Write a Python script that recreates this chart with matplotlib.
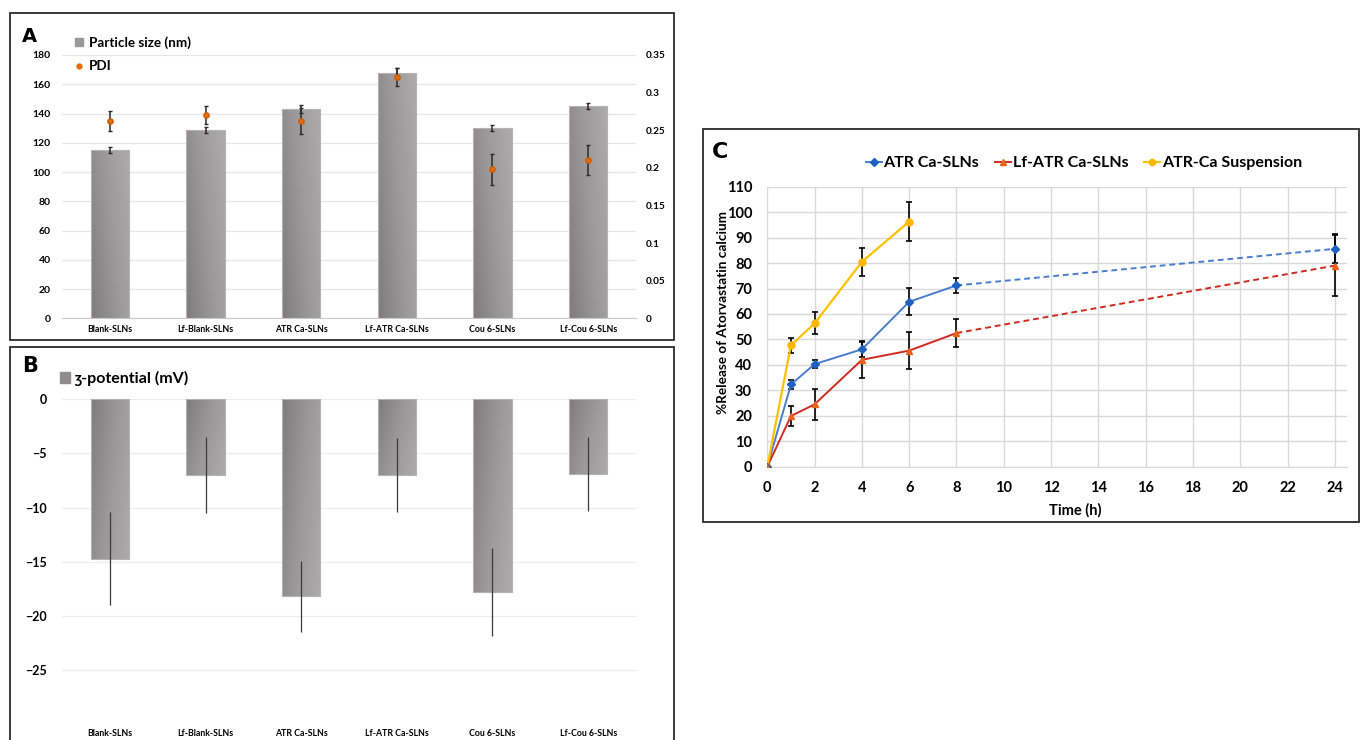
import numpy as np
import matplotlib
matplotlib.use('Agg')
import matplotlib.pyplot as plt
from matplotlib.patches import Rectangle, Patch
from matplotlib.lines import Line2D
from matplotlib.colors import LinearSegmentedColormap

plt.rcParams['font.family'] = ['Lato', 'DejaVu Sans']
plt.rcParams['font.weight'] = 'bold'

# ---------------- data ----------------
categories = ['Blank-SLNs', 'Lf-Blank-SLNs', 'ATR Ca-SLNs', 'Lf-ATR Ca-SLNs', 'Cou 6-SLNs', 'Lf-Cou 6-SLNs']
size_nm = [115, 128.5, 143, 168, 130, 145]
size_err = [2, 2, 2.5, 3, 2, 2]
pdi = [0.262, 0.270, 0.262, 0.321, 0.198, 0.210]
pdi_err = [0.013, 0.012, 0.017, 0.012, 0.021, 0.020]
zeta = [-14.7, -7.0, -18.2, -7.0, -17.8, -6.9]
zeta_err = [4.3, 3.5, 3.3, 3.4, 4.1, 3.45]

size_ticks = [0, 20, 40, 60, 80, 100, 120, 140, 160, 180]
pdi_ticks = [0, 0.05, 0.1, 0.15, 0.2, 0.25, 0.3, 0.35]
pdi_ticklabels = ['0', '0.05', '0.1', '0.15', '0.2', '0.25', '0.3', '0.35']
zeta_ticks = [0, -5, -10, -15, -20, -25]

time_slns = [0, 1, 2, 4, 6, 8, 24]
atr_release = [0, 32.3, 40.3, 46.1, 64.8, 71.2, 85.6]
atr_err = [0, 1.8, 1.6, 3.1, 5.4, 3.1, 5.7]
lf_release = [0, 19.9, 24.5, 42.0, 45.6, 52.5, 79.0]
lf_err = [0, 3.9, 6.2, 7.0, 7.3, 5.6, 12.0]
time_susp = [0, 1, 2, 4, 6]
susp_release = [0, 47.7, 56.3, 80.5, 96.3]
susp_err = [0, 3.0, 4.3, 5.5, 7.5]
time_ticks = [0, 2, 4, 6, 8, 10, 12, 14, 16, 18, 20, 22, 24]
release_ticks = [0, 10, 20, 30, 40, 50, 60, 70, 80, 90, 100, 110]

# ---------------- figure ----------------
W, H = 1360, 740
fig = plt.figure(figsize=(13.6, 7.4), dpi=100)

def fx(px):
    return px / W

def fy(py):
    return 1 - py / H

grad_cmap = LinearSegmentedColormap.from_list('g', ['#7e7c7c', '#9a9898', '#adabab'])

def gradient_bars(ax, bars):
    g = np.linspace(0, 1, 64)
    X, Y = np.meshgrid(g, g)
    Z = 0.7 * X + 0.3 * Y
    for b in bars:
        x0, y0 = b.get_x(), b.get_y()
        w, h = b.get_width(), b.get_height()
        im = ax.imshow(Z, extent=[x0, x0 + w, y0 + h, y0], origin='upper', cmap=grad_cmap,
                       aspect='auto', zorder=b.get_zorder() - 0.1, interpolation='bilinear')
        im.set_clip_path(b)
        b.set_facecolor('none')

# panel boxes
for (x0, y0, x1, y1) in [(10, 13, 674, 340), (10, 347, 674, 748), (703, 129, 1358.5, 522)]:
    fig.add_artist(Rectangle((fx(x0), fy(y1)), fx(x1) - fx(x0), fy(y0) - fy(y1),
                             transform=fig.transFigure, fill=False, ec='#2b2b2b', lw=1.3))

x = np.arange(len(categories))

# ---------------- Panel A ----------------
axA = fig.add_axes([fx(62), fy(318.3), fx(636) - fx(62), fy(55) - fy(318.3)])
barsA = axA.bar(x, size_nm, width=0.4, color='#9a9898', edgecolor='#b4b2b2', lw=0.8, zorder=2)
gradient_bars(axA, barsA)
axA.errorbar(x, size_nm, yerr=size_err, fmt='none', ecolor='#2a2a2a', elinewidth=1.1,
             capsize=1.5, capthick=1.0, zorder=4)
axA.set_xlim(-0.5, len(categories) - 0.5)
axA.set_ylim(0, 180)
axA.set_yticks(size_ticks)
axA.set_xticks(x)
axA.set_xticklabels(categories, fontsize=6.3, fontweight='bold')
axA.tick_params(axis='both', length=0)
axA.tick_params(axis='y', pad=8, labelsize=7.5)
axA.tick_params(axis='x', pad=5)
axA.grid(axis='y', color='#e6e6e6', lw=0.9, zorder=0)
axA.set_axisbelow(True)
for s in ['top', 'right', 'left']:
    axA.spines[s].set_visible(False)
axA.spines['bottom'].set_color('#c8c8c8')

axA2 = axA.twinx()
axA2.errorbar(x, pdi, yerr=pdi_err, fmt='o', color='#e46c0a', ms=3.8, mec='#d05a00',
              ecolor='#2a2a2a', elinewidth=1.1, capsize=1.5, capthick=1.0, zorder=5)
axA2.set_ylim(0, 0.35)
axA2.set_yticks(pdi_ticks)
axA2.set_yticklabels(pdi_ticklabels)
axA2.tick_params(axis='y', length=0, labelsize=7.2, pad=7)
for s in ['top', 'right', 'left', 'bottom']:
    axA2.spines[s].set_visible(False)

fig.legend(handles=[Patch(facecolor='#9a9898', edgecolor='#9a9898'),
                    Line2D([], [], ls='none', marker='o', ms=3.5, color='#e46c0a')],
           labels=['Particle size (nm)', 'PDI'], loc='upper left',
           bbox_to_anchor=(fx(75), fy(36)), frameon=False,
           handlelength=0.6, handleheight=0.6, handletextpad=0.45, labelspacing=0.85,
           borderpad=0, borderaxespad=0, prop={'weight': 'bold', 'size': 9.7})
fig.text(fx(22), fy(37), 'A', fontsize=14, fontweight='bold', va='center', ha='left',
         family=['DejaVu Sans'])

# ---------------- Panel B ----------------
axB = fig.add_axes([fx(62), fy(713.4), fx(636) - fx(62), fy(399.3) - fy(713.4)])
barsB = axB.bar(x, zeta, width=0.4, color='#9a9898', edgecolor='#b4b2b2', lw=0.8, zorder=2)
gradient_bars(axB, barsB)
axB.errorbar(x, zeta, yerr=zeta_err, fmt='none', ecolor='#3a3a3a', elinewidth=0.9,
             capsize=0, zorder=4)
axB.set_xlim(-0.5, len(categories) - 0.5)
axB.set_ylim(-29, 0)
axB.set_yticks(zeta_ticks)
axB.set_xticks(x)
axB.set_xticklabels(categories, fontsize=6.3, fontweight='bold')
axB.tick_params(axis='both', length=0)
axB.tick_params(axis='y', labelsize=9, pad=11)
axB.tick_params(axis='x', pad=11)
axB.grid(axis='y', color='#ececec', lw=0.9, zorder=0)
axB.set_axisbelow(True)
for s in ['top', 'right', 'left', 'bottom']:
    axB.spines[s].set_visible(False)

fig.legend(handles=[Patch(facecolor='#8e8c8c', edgecolor='#8e8c8c')],
           labels=['ʒ-potential (mV)'], loc='upper left',
           bbox_to_anchor=(fx(60), fy(371)), frameon=False,
           handlelength=0.6, handleheight=0.7, handletextpad=0.3,
           borderpad=0, borderaxespad=0, prop={'weight': 'bold', 'size': 11.5,
                                               'family': ['Lato', 'DejaVu Sans']})
fig.text(fx(22), fy(366), 'B', fontsize=15, fontweight='bold', va='center', ha='left',
         family=['DejaVu Sans'])

# ---------------- Panel C ----------------
axC = fig.add_axes([fx(767.3), fy(466.7), fx(1346.7) - fx(767.3), fy(186.7) - fy(466.7)])
blue, blue_m = '#4a7cd0', '#2060c0'
red, red_m = '#d02a20', '#e8621a'
yel, yel_m = '#ffc000', '#ffb800'

axC.errorbar(time_slns, atr_release, yerr=atr_err, fmt='none', ecolor='black',
             elinewidth=1.2, capsize=2.5, capthick=1.2, zorder=3)
axC.errorbar(time_slns, lf_release, yerr=lf_err, fmt='none', ecolor='black',
             elinewidth=1.2, capsize=2.5, capthick=1.2, zorder=3)
axC.errorbar(time_susp, susp_release, yerr=susp_err, fmt='none', ecolor='black',
             elinewidth=1.2, capsize=2.5, capthick=1.2, zorder=3)

axC.plot(time_slns[:6], atr_release[:6], color=blue, lw=1.4, zorder=4)
axC.plot(time_slns[5:], atr_release[5:], color=blue, lw=1.4, ls=(0, (3, 2)), zorder=4)
axC.plot(time_slns, atr_release, ls='none', marker='D', ms=4, color=blue_m, zorder=5)

axC.plot(time_slns[:6], lf_release[:6], color=red, lw=1.4, zorder=4)
axC.plot(time_slns[5:], lf_release[5:], color=red, lw=1.4, ls=(0, (3, 2)), zorder=4)
axC.plot(time_slns, lf_release, ls='none', marker='^', ms=5, color=red_m, zorder=5)

axC.plot(time_susp, susp_release, color=yel, lw=1.6, marker='o', ms=5, mfc=yel_m,
         mec=yel_m, zorder=4)

axC.set_xlim(0, 24.5)
axC.set_ylim(0, 110)
axC.set_xticks(time_ticks)
axC.set_yticks(release_ticks)
axC.tick_params(axis='both', length=0, labelsize=10.5)
axC.tick_params(axis='y', pad=11)
axC.tick_params(axis='x', pad=10)
axC.grid(True, color='#d9d9d9', lw=1.0, zorder=0)
axC.set_axisbelow(True)
for s in ['top', 'right', 'left']:
    axC.spines[s].set_visible(False)
axC.spines['bottom'].set_color('#d9d9d9')
axC.set_xlabel('Time (h)', fontsize=10.5, fontweight='bold')
axC.xaxis.set_label_coords(0.532, -0.13)
axC.set_ylabel('%Release of Atorvastatin calcium', fontsize=9.8, fontweight='bold')
axC.yaxis.set_label_coords(-0.066, 0.552)

handlesC = [Line2D([], [], color=blue, lw=1.4, marker='D', ms=4, mfc=blue_m, mec=blue_m),
            Line2D([], [], color=red, lw=1.4, marker='^', ms=5, mfc=red_m, mec=red_m),
            Line2D([], [], color=yel, lw=1.6, marker='o', ms=4.5, mfc=yel_m, mec=yel_m)]
fig.legend(handles=handlesC, labels=['ATR Ca-SLNs', 'Lf-ATR Ca-SLNs', 'ATR-Ca Suspension'],
           loc='center', bbox_to_anchor=(fx(1084), fy(163)), ncol=3, frameon=False,
           handlelength=1.0, handletextpad=0.1, columnspacing=1.0,
           borderpad=0, borderaxespad=0, prop={'weight': 'bold', 'size': 11.5})
fig.text(fx(712), fy(152), 'C', fontsize=16, fontweight='bold', va='center', ha='left',
         family=['DejaVu Sans'])

fig.savefig('out.png', dpi=100)
